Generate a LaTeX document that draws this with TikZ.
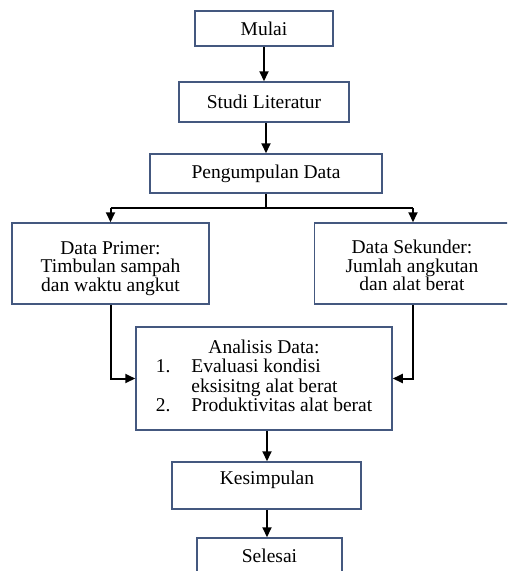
\documentclass[tikz,border=0pt]{standalone}
\usepackage{fontspec}
\setmainfont{Liberation Serif}
\usetikzlibrary{arrows.meta}
\definecolor{boxline}{HTML}{44587F}
\begin{document}
\begin{tikzpicture}[x=1pt,y=-1pt,
  box/.style={draw=boxline,line width=1.5pt,inner sep=0pt,align=center,
    font=\fontsize{19.5}{18.5}\selectfont},
  txt/.style={inner sep=0pt,align=center,font=\fontsize{19.5}{18.5}\selectfont},
  arr/.style={line width=2pt,-{Triangle[length=10pt,width=9pt]}},
  ln/.style={line width=2pt}]
\useasboundingbox (0,0) rectangle (507,571);
\clip (0,0) rectangle (507,571);
\fill[white] (0,0) rectangle (507,571);
\node[box,minimum width=138pt,minimum height=35pt] (mulai) at (264,28.5) {Mulai};
\node[box,minimum width=170pt,minimum height=40pt] (studi) at (264,102) {Studi Literatur};
\node[box,minimum width=232pt,minimum height=39pt] (peng) at (266,173.5) {Pengumpulan Data};
\node[box,minimum width=197pt,minimum height=81pt] (prim) at (110.5,263.5) {};
\node[txt] (primt) at (110.5,268.5) {Data Primer:\\Timbulan sampah\\dan waktu angkut};
\node[box,minimum width=197pt,minimum height=81pt] (sek) at (413,263.5) {};
\node[txt] (sekt) at (412,265.5) {Data Sekunder:\\Jumlah angkutan\\dan alat berat};
\node[box,minimum width=256pt,minimum height=103pt] (ana) at (264,378.5)
  {\renewcommand{\arraystretch}{1}%
   \begin{tabular}{@{}l@{\hspace{21pt}}l@{}}
   \multicolumn{2}{c}{Analisis Data:}\\[0.5pt]
   1. & Evaluasi kondisi\\[0.5pt]
      & eksisitng alat berat\\[0.5pt]
   2. & Produktivitas alat berat
   \end{tabular}};
\node[box,minimum width=189pt,minimum height=47pt] (kes) at (266.5,485.5) {};
\node[txt] (kest) at (267,480) {Kesimpulan};
\node[box,minimum width=145pt,minimum height=35pt] (sel) at (269.5,555.5) {Selesai};
\coordinate (split) at (266,208);
\draw[arr] (mulai.south) -- (studi.north);
\draw[arr] (studi.south -| peng.north) -- (peng.north);
\draw[ln] (peng.south) -- (split);
\draw[ln] (prim.north |- split) -- (sek.north |- split);
\draw[arr] (split -| prim.north) -- (prim.north);
\draw[arr] (split -| sek.north) -- (sek.north);
\draw[arr] (prim.south) |- (ana.west);
\draw[arr] (sek.south) |- (ana.east);
\draw[arr] (ana.south -| 267,0) -- (kes.north -| 267,0);
\draw[arr] (kes.south -| 267,0) -- (sel.north -| 267,0);
\end{tikzpicture}
\end{document}
